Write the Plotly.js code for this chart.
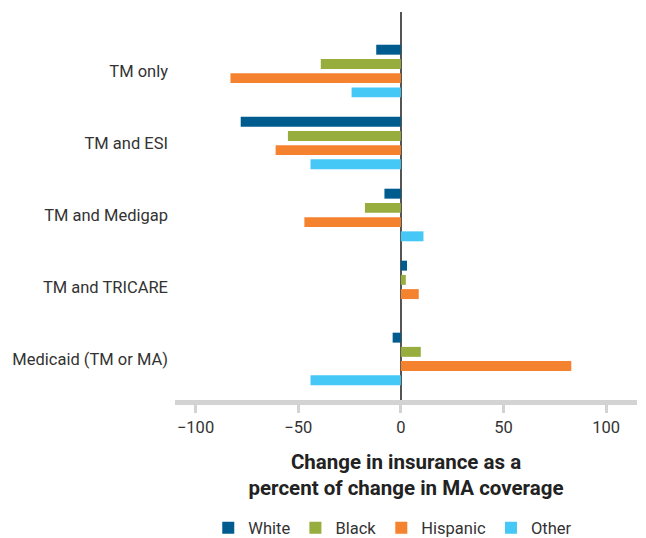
<!DOCTYPE html>
<html><head><meta charset="utf-8">
<script src="https://cdn.plot.ly/plotly-3.0.1.min.js"></script>
<style>body{margin:0;background:#fff}#chart{width:646px;height:538px}</style>
</head><body><div id="chart"></div>
<script>
const categories = ["TM only", "TM and ESI", "TM and Medigap", "TM and TRICARE", "Medicaid (TM or MA)"];
const seriesNames = ["White", "Black", "Hispanic", "Other"];
const white = [-12, -78, -8, 3, -4];
const black = [-39, -55, -17.5, 2.4, 9.7];
const hispanic = [-83, -61, -47, 8.7, 83];
const other = [-24, -44, 11, 0, -44];
const colors = ["#005b8f", "#97ad3e", "#f5822f", "#45c8f5"];
const values = [white, black, hispanic, other];

const traces = values.map((v, i) => ({
  type: "bar", orientation: "h", name: seriesNames[i],
  y: categories, x: v, marker: {color: colors[i]}, hoverinfo: "x+y"
}));

const layout = {
  width: 646, height: 538,
  margin: {l: 175, r: 9, t: 12, b: 138},
  paper_bgcolor: "#fff", plot_bgcolor: "#fff",
  font: {family: "Roboto, 'DejaVu Sans', sans-serif", color: "#333", size: 16},
  barmode: "group", bargap: 0.21, bargroupgap: 0.3,
  xaxis: {
    range: [-110, 115], tickvals: [-100, -50, 0, 50, 100],
    showgrid: false, zeroline: true, zerolinecolor: "#555", zerolinewidth: 2,
    showline: true, linecolor: "#d3d3d3", linewidth: 5,
    ticks: "outside", ticklen: 8, tickwidth: 3, tickcolor: "#d3d3d3",
    ticklabelstandoff: 0,
    tickfont: {size: 16.5, color: "#333"},
    title: {text: "<b>Change in insurance as a<br>percent of change in MA coverage</b>", font: {size: 20.5, color: "#222"}, standoff: 20}
  },
  yaxis: {
    range: [4.57, -0.82], showgrid: false, zeroline: false, showline: false,
    ticks: "", ticklabelstandoff: 6, tickfont: {size: 16.5, color: "#333"}
  },
  legend: {orientation: "h", xref: "container", yref: "container", x: 0.608, xanchor: "center", y: 0.0185, yanchor: "middle",
    font: {size: 16.5, color: "#333"}, itemwidth: 30, traceorder: "normal"},
  showlegend: true
};
Plotly.newPlot("chart", traces, layout, {displayModeBar: false, staticPlot: true});
</script></body></html>
